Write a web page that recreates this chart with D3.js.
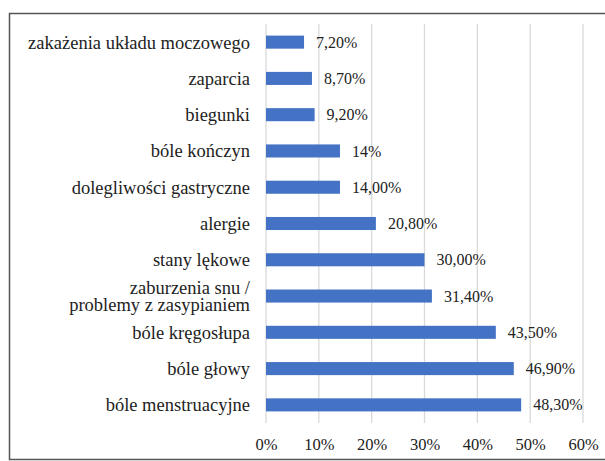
<!DOCTYPE html>
<html>
<head>
<meta charset="utf-8">
<script src="https://cdn.jsdelivr.net/npm/d3@7"></script>
<style>
  body { margin: 0; background: #fff; }
</style>
</head>
<body>
<svg id="chart" width="605" height="461"></svg>
<script>
// categories top to bottom
const categories = [
  'zakażenia układu moczowego',
  'zaparcia',
  'biegunki',
  'bóle kończyn',
  'dolegliwości gastryczne',
  'alergie',
  'stany lękowe',
  'zaburzenia snu /\nproblemy z zasypianiem',
  'bóle kręgosłupa',
  'bóle głowy',
  'bóle menstruacyjne'
];
const values = [7.2, 8.7, 9.2, 14, 14.0, 20.8, 30.0, 31.4, 43.5, 46.9, 48.3];
const valueLabels = ['7,20%', '8,70%', '9,20%', '14%', '14,00%', '20,80%', '30,00%', '31,40%', '43,50%', '46,90%', '48,30%'];
const ticks = [0, 10, 20, 30, 40, 50, 60];

const svg = d3.select('#chart');
const margin = { top: 24, left: 266, right: 22, bottom: 38 };
const width = 605, height = 461;
const serif = '"Liberation Serif"';

// outer frame
svg.append('rect')
  .attr('x', 9.5).attr('y', 13.5)
  .attr('width', 620).attr('height', 446)
  .attr('fill', 'none')
  .attr('stroke', '#555')
  .attr('stroke-width', 1.5);

const x = d3.scaleLinear().domain([0, 60]).range([margin.left, width - margin.right]);
const y = d3.scaleBand().domain(categories).range([margin.top, height - margin.bottom]).paddingInner(0.64).paddingOuter(0.32);

// gridlines
svg.append('g')
  .selectAll('line')
  .data(ticks)
  .join('line')
  .attr('x1', d => x(d)).attr('x2', d => x(d))
  .attr('y1', margin.top).attr('y2', height - margin.bottom)
  .attr('stroke', '#d9d9d9')
  .attr('stroke-width', 1.3);

// x axis labels
const xAxis = svg.append('g')
  .attr('transform', `translate(0,${height - margin.bottom})`)
  .call(d3.axisBottom(x).tickValues(ticks).tickFormat(d => d + '%').tickSize(0).tickPadding(15));
xAxis.attr('font-family', null).attr('font-size', null);
xAxis.select('.domain').remove();
xAxis.selectAll('text')
  .style('font-family', serif)
  .style('font-size', '16.5px')
  .attr('fill', '#222');

// bars
svg.append('g')
  .selectAll('rect')
  .data(values)
  .join('rect')
  .attr('x', x(0))
  .attr('y', (d, i) => y(categories[i]))
  .attr('width', d => x(d) - x(0))
  .attr('height', y.bandwidth())
  .attr('fill', '#4472C4');

// value labels
svg.append('g')
  .selectAll('text')
  .data(values)
  .join('text')
  .attr('x', d => x(d) + 12)
  .attr('y', (d, i) => y(categories[i]) + y.bandwidth() / 2)
  .attr('dy', '0.35em')
  .style('font-family', serif)
  .style('font-size', '16px')
  .attr('fill', '#222')
  .text((d, i) => valueLabels[i]);

// category labels
const catG = svg.append('g');
categories.forEach(c => {
  const lines = c.split('\n');
  const cy = y(c) + y.bandwidth() / 2;
  const t = catG.append('text')
    .attr('x', x(0) - 16)
    .attr('text-anchor', 'end')
    .style('font-family', serif)
    .style('font-size', '18.5px')
    .attr('fill', '#222');
  lines.forEach((l, j) => {
    t.append('tspan')
      .attr('x', x(0) - 16)
      .attr('y', cy + (j - (lines.length - 1) / 2) * 17)
      .attr('dy', '0.35em')
      .style('font-family', serif)
      .text(l);
  });
});
</script>
</body>
</html>
